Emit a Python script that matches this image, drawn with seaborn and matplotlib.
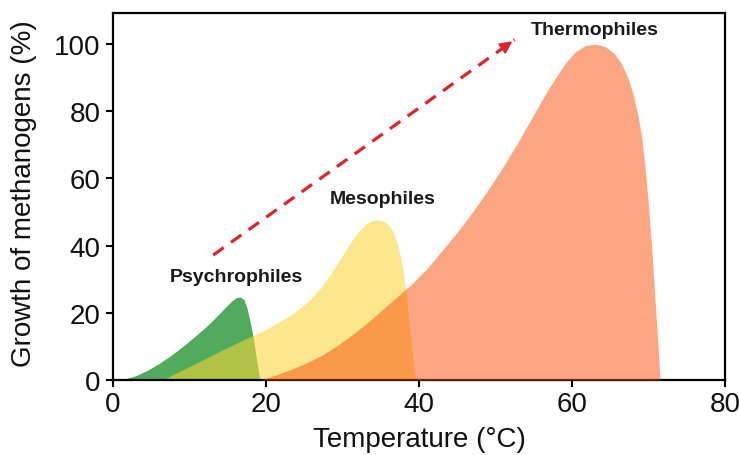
import numpy as np
import pandas as pd
import matplotlib
matplotlib.use('Agg')
import matplotlib.pyplot as plt
import seaborn as sns

# Curvas (temperatura en °C, crecimiento en %)
psychro_x = [0.5, 1.5, 3, 4.5, 6, 7.5, 9, 10.5, 12, 13, 14, 14.8, 15.5, 16.1, 16.6, 17.1,
             17.5, 17.9, 18.3, 18.7, 19.0, 19.2]
psychro_y = [0, 0.3, 1.3, 2.9, 4.9, 7.2, 9.8, 12.6, 15.5, 17.7, 20, 21.9, 23.5, 24.5, 24.7, 24,
             21.5, 17.5, 13, 7, 2.5, 0]

meso_x = [6.5, 8, 10, 12, 14, 16, 18, 20, 22, 24, 25.5, 27, 28.3, 29.7, 31, 32, 33, 33.8,
          34.5, 35.3, 36, 36.6, 37.1, 37.6, 38, 38.4, 38.8, 39.2, 39.6]
meso_y = [0, 1.8, 4, 6.3, 8.6, 10.8, 12.9, 15.1, 17.6, 20.6, 23.4, 27, 31, 36, 40.8, 43.9,
          46.3, 47.4, 47.7, 47.4, 46.3, 44.2, 41, 36.5, 31.5, 24.5, 15, 6, 0]

thermo_x = [19.3, 21, 23, 25, 27, 29, 31, 33, 35, 37, 39, 41, 43, 45, 47, 49, 51, 53, 55,
            56.5, 58, 59.3, 60.5, 61.7, 63, 64.3, 65.5, 66.5, 67.3, 68, 68.6, 69.1, 69.6,
            70.0, 70.4, 70.8, 71.2, 71.5]
thermo_y = [0, 1.3, 2.9, 4.8, 7, 9.8, 13, 16.6, 20.5, 24.5, 28.5, 33, 38.5, 44, 50, 56.5,
            63.5, 71, 79, 85, 90.5, 94.8, 97.8, 99.5, 100, 99.3, 97.3, 94, 90, 85, 79, 72.5,
            62, 52, 40, 26, 12, 0]

# Etiquetas de cada grupo
labels = ['Psychrophiles', 'Mesophiles', 'Thermophiles']
label_x = [16.1, 35.2, 63.0]
label_y = [30.8, 53.9, 104.2]

# Flecha de tendencia
arrow_x = [13.1, 52.5]
arrow_y = [37.2, 101.3]

xticks = [0, 20, 40, 60, 80]
yticks = [0, 20, 40, 60, 80, 100]

sns.set_theme(style='ticks')
plt.rcParams['font.family'] = ['Liberation Sans', 'DejaVu Sans']

fig = plt.figure(figsize=(7.39, 4.56), dpi=100)
ax = fig.add_axes([0.153, 0.1645, 0.828, 0.8045])

# Areas (el orden de dibujo da los colores de solapamiento)
ax.fill_between(psychro_x, psychro_y, color='#52ab5c', lw=0, zorder=1)
ax.fill_between(meso_x, meso_y, color='#fbd635', alpha=0.57, lw=0, zorder=2)
ax.fill_between(thermo_x, thermo_y, color='#f94d09', alpha=0.5, lw=0, zorder=3)

# Flecha discontinua
arrow_df = pd.DataFrame({'x': arrow_x, 'y': arrow_y})
sns.lineplot(data=arrow_df, x='x', y='y', ax=ax, color='#e0222a', lw=2.3,
             linestyle=(0, (4, 2.8)), zorder=4)
ax.annotate('', xy=(arrow_x[1], arrow_y[1]),
            xytext=(arrow_x[1] - 1.2 * (arrow_x[1] - arrow_x[0]) / 40,
                    arrow_y[1] - 1.2 * (arrow_y[1] - arrow_y[0]) / 40),
            arrowprops=dict(arrowstyle='-|>,head_length=0.6,head_width=0.3',
                            color='#e0222a', lw=1.5), zorder=5)

for lab, lx, ly in zip(labels, label_x, label_y):
    ax.text(lx, ly, lab, ha='center', va='center', fontsize=14,
            fontweight='bold', color='#1a1a1a', zorder=6)

ax.set_xlim(0, 80)
ax.set_ylim(0, 109.2)
ax.set_xticks(xticks)
ax.set_yticks(yticks)
ax.tick_params(axis='both', labelsize=20, length=5, width=1.5, color='black',
               labelcolor='#111111')
ax.tick_params(axis='x', pad=3)
ax.tick_params(axis='y', pad=4)
for side in ['left', 'bottom', 'top', 'right']:
    ax.spines[side].set_color('black')
    ax.spines[side].set_linewidth(1.6)

ax.set_xlabel('Temperature (°C)', fontsize=20, color='#111111')
ax.set_ylabel('Growth of methanogens (%)', fontsize=20, color='#111111')
ax.xaxis.set_label_coords(0.5, -0.125)
ax.yaxis.set_label_coords(-0.124, 0.51)

fig.savefig('out.png', dpi=100)
